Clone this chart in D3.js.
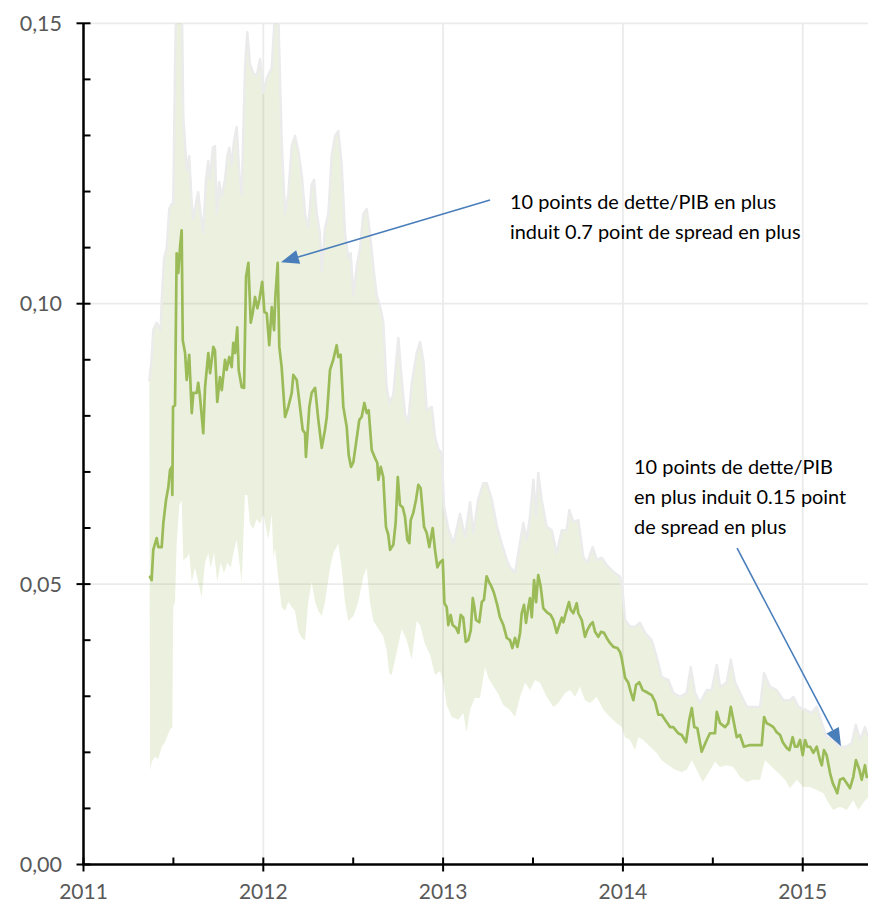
<!DOCTYPE html>
<html><head><meta charset="utf-8">
<script src="https://cdn.jsdelivr.net/npm/d3@7"></script>
<style>body{margin:0;background:#fff}svg{display:block}</style>
</head><body><svg id="chart" width="873" height="904"></svg>
<script>
// ---------- DATA ----------
const yearTicks = [2011, 2012, 2013, 2014, 2015];
const halfYearTicks = [2011.5, 2012.5, 2013.5, 2014.5];
const valueTicks = [0, 0.05, 0.10, 0.15];
const minorValueTicks = [0.01,0.02,0.03,0.04,0.06,0.07,0.08,0.09,0.11,0.12,0.13,0.14];

const spreadDates = [
2011.370,2011.379,2011.388,2011.407,2011.416,2011.435,2011.444,2011.459,2011.472,2011.481,
2011.491,2011.494,2011.498,2011.509,2011.518,2011.527,2011.537,2011.546,2011.552,2011.565,
2011.574,2011.588,2011.602,2011.611,2011.630,2011.638,2011.648,2011.666,2011.676,2011.694,
2011.704,2011.722,2011.731,2011.744,2011.759,2011.769,2011.787,2011.796,2011.811,2011.824,
2011.833,2011.843,2011.855,2011.863,2011.880,2011.893,2011.904,2011.917,2011.930,2011.941,
2011.954,2011.967,2011.978,2011.994,
2012.006,2012.019,2012.033,2012.047,2012.060,2012.067,2012.080,2012.089,2012.102,2012.121,
2012.139,2012.158,2012.167,2012.186,2012.204,2012.219,2012.232,2012.237,2012.256,2012.269,
2012.288,2012.306,2012.325,2012.343,2012.353,2012.371,2012.389,2012.408,2012.417,2012.430,
2012.445,2012.464,2012.475,2012.488,2012.501,2012.516,2012.534,2012.547,2012.562,2012.575,
2012.586,2012.603,2012.621,2012.634,2012.640,2012.653,2012.667,2012.682,2012.695,2012.705,
2012.723,2012.736,2012.748,2012.760,2012.775,2012.788,2012.801,2012.812,2012.820,2012.834,
2012.849,2012.862,2012.875,2012.894,2012.909,2012.923,2012.942,2012.955,2012.968,2012.983,
2012.998,
2013.007,2013.020,2013.029,2013.042,2013.053,2013.072,2013.085,2013.098,2013.112,2013.126,
2013.140,2013.154,2013.165,2013.174,2013.183,2013.201,2013.215,2013.227,2013.242,2013.255,
2013.270,2013.283,2013.301,2013.316,2013.335,2013.354,2013.372,2013.385,2013.400,2013.413,
2013.428,2013.437,2013.450,2013.461,2013.474,2013.483,2013.493,2013.506,2013.517,2013.529,
2013.543,2013.557,2013.576,2013.598,2013.613,2013.632,2013.646,2013.660,2013.669,2013.682,
2013.700,2013.710,2013.724,2013.743,2013.752,2013.771,2013.789,2013.802,2013.817,2013.832,
2013.845,2013.863,2013.878,2013.895,2013.910,2013.928,2013.947,2013.969,2013.984,2013.993,
2014.012,2014.030,2014.045,2014.058,2014.073,2014.091,2014.110,2014.128,2014.160,2014.179,
2014.197,2014.216,2014.234,2014.262,2014.280,2014.308,2014.327,2014.351,2014.369,2014.383,
2014.397,2014.414,2014.438,2014.466,2014.484,2014.512,2014.522,2014.540,2014.568,2014.586,
2014.600,2014.614,2014.633,2014.651,2014.673,2014.707,2014.744,2014.772,2014.785,2014.800,
2014.818,2014.837,2014.855,2014.874,2014.889,2014.911,2014.926,2014.944,2014.957,2014.970,
2014.985,
2015.000,2015.013,2015.026,2015.041,2015.059,2015.078,2015.096,2015.106,2015.118,2015.133,
2015.152,2015.167,2015.180,2015.192,2015.207,2015.226,2015.245,2015.263,2015.281,2015.296,
2015.315,2015.328,2015.346,2015.356,2015.363];

const spreadValues = [
.0513,.0507,.0561,.0582,.0566,.0566,.0609,.0650,.0673,.0703,
.0709,.0659,.0816,.0819,.1090,.1055,.1101,.1131,.0935,.0912,
.0864,.0909,.0805,.0841,.0841,.0859,.0834,.0769,.0851,.0912,
.0876,.0923,.0917,.0825,.0869,.0846,.0900,.0882,.0905,.0887,
.0930,.0912,.0958,.0882,.0851,.0850,.1048,.1073,.0966,.0983,
.1012,.0992,.1007,.1039,
.0985,.0983,.0926,.0994,.0953,.1012,.1073,.0923,.0887,.0798,
.0816,.0841,.0873,.0864,.0816,.0775,.0769,.0727,.0816,.0841,
.0850,.0793,.0743,.0775,.0798,.0882,.0900,.0926,.0905,.0909,
.0816,.0780,.0730,.0709,.0718,.0752,.0793,.0798,.0823,.0805,
.0810,.0739,.0725,.0716,.0686,.0709,.0691,.0602,.0588,.0561,
.0570,.0609,.0691,.0641,.0637,.0620,.0579,.0573,.0614,.0627,
.0650,.0677,.0671,.0602,.0591,.0566,.0600,.0561,.0530,.0539,
.0543,
.0466,.0459,.0427,.0445,.0427,.0422,.0413,.0445,.0440,.0397,
.0400,.0418,.0475,.0459,.0436,.0432,.0468,.0472,.0514,.0504,
.0495,.0484,.0463,.0441,.0427,.0404,.0400,.0386,.0404,.0388,
.0413,.0448,.0463,.0431,.0459,.0475,.0441,.0507,.0468,.0516,
.0495,.0457,.0450,.0445,.0436,.0413,.0427,.0440,.0432,.0448,
.0468,.0454,.0448,.0466,.0448,.0436,.0406,.0418,.0427,.0432,
.0415,.0406,.0415,.0413,.0404,.0395,.0388,.0386,.0379,.0368,
.0333,.0324,.0306,.0293,.0320,.0325,.0311,.0308,.0302,.0290,
.0267,.0267,.0258,.0245,.0245,.0234,.0231,.0218,.0258,.0279,
.0245,.0243,.0201,.0222,.0234,.0234,.0272,.0252,.0245,.0252,
.0281,.0258,.0227,.0231,.0210,.0213,.0213,.0213,.0263,.0252,
.0249,.0245,.0236,.0231,.0218,.0208,.0204,.0227,.0210,.0210,
.0222,
.0195,.0222,.0210,.0210,.0199,.0210,.0186,.0177,.0204,.0195,
.0163,.0145,.0136,.0127,.0151,.0154,.0145,.0136,.0156,.0186,
.0169,.0151,.0177,.0156,.0156];

const upperDates = [
2011.366,2011.379,2011.388,2011.407,2011.429,2011.435,2011.448,2011.463,2011.477,2011.491,
2011.499,2011.509,2011.518,2011.546,2011.555,2011.574,2011.588,2011.602,2011.611,2011.630,
2011.638,2011.648,2011.666,2011.681,2011.694,2011.704,2011.719,2011.731,2011.741,2011.755,
2011.769,2011.787,2011.800,2011.811,2011.824,2011.837,2011.852,2011.867,2011.880,2011.898,
2011.911,2011.926,2011.944,2011.963,2011.982,
2012.000,2012.019,2012.047,2012.065,2012.083,2012.102,2012.121,2012.139,2012.158,2012.176,
2012.195,2012.214,2012.232,2012.250,2012.269,2012.282,2012.297,2012.315,2012.325,2012.343,
2012.362,2012.380,2012.399,2012.417,2012.436,2012.454,2012.473,2012.486,2012.501,2012.519,
2012.538,2012.556,2012.575,2012.593,2012.612,2012.631,2012.649,2012.667,2012.686,2012.701,
2012.723,2012.751,2012.770,2012.788,2012.806,2012.825,2012.853,2012.872,2012.890,2012.909,
2012.937,2012.955,2012.973,2012.992,
2013.005,2013.029,2013.057,2013.094,2013.122,2013.150,2013.168,2013.196,2013.224,2013.242,
2013.270,2013.298,2013.326,2013.354,2013.372,2013.400,2013.418,2013.446,2013.465,2013.483,
2013.502,2013.517,2013.529,2013.548,2013.576,2013.604,2013.632,2013.660,2013.687,2013.702,
2013.724,2013.752,2013.780,2013.802,2013.832,2013.854,2013.882,2013.910,2013.947,2013.984,
2013.998,
2014.012,2014.040,2014.067,2014.095,2014.123,2014.160,2014.188,2014.216,2014.253,2014.280,
2014.318,2014.355,2014.377,2014.401,2014.429,2014.466,2014.494,2014.522,2014.540,2014.577,
2014.600,2014.624,2014.651,2014.689,2014.725,2014.763,2014.785,2014.818,2014.855,2014.892,
2014.929,2014.948,2014.976,
2015.013,2015.050,2015.078,2015.106,2015.133,2015.170,2015.207,2015.245,2015.273,2015.296,
2015.319,2015.346,2015.363];

const upperValues = [
.0862,.0901,.0953,.0966,.0953,.1005,.1081,.1099,.1169,.1178,
.1178,.1420,.158,.156,.1333,.1238,.1263,.1178,.1151,.1187,
.1199,.1169,.1126,.1221,.1254,.1221,.1278,.1281,.1160,.1217,
.1190,.1221,.1263,.1278,.1247,.1290,.1315,.1229,.1194,.1420,
.1484,.1427,.1411,.1406,.1436,
.1376,.1402,.1420,.152,.152,.1290,.1160,.1194,.1281,.1299,
.1272,.1229,.1160,.1135,.1212,.1221,.1160,.1126,.1057,.1135,
.1160,.1263,.1299,.1308,.1247,.1126,.1081,.1090,.1014,.1065,
.1099,.1160,.1169,.1126,.1065,.1014,.0996,.0967,.0850,.0823,
.0837,.0939,.0864,.0803,.0789,.0857,.0912,.0932,.0898,.0810,
.0816,.0762,.0741,.0734,
.0639,.0598,.0572,.0625,.0584,.0646,.0591,.0652,.0680,.0680,
.0652,.0605,.0572,.0543,.0530,.0520,.0555,.0609,.0579,.0620,
.0686,.0620,.0698,.0650,.0602,.0596,.0555,.0596,.0596,.0632,
.0611,.0614,.0548,.0538,.0566,.0543,.0547,.0534,.0522,.0513,
.0489,
.0436,.0424,.0424,.0431,.0413,.0400,.0370,.0334,.0329,.0306,
.0299,.0306,.0352,.0306,.0288,.0311,.0311,.0356,.0317,.0324,
.0365,.0324,.0306,.0281,.0281,.0281,.0341,.0317,.0311,.0293,
.0293,.0299,.0281,
.0276,.0270,.0281,.0252,.0227,.0222,.0210,.0210,.0217,.0249,
.0222,.0245,.0227];

const lowerDates = [
2011.370,2011.379,2011.398,2011.416,2011.435,2011.453,2011.472,2011.485,2011.494,2011.499,
2011.509,2011.518,2011.533,2011.546,2011.555,2011.574,2011.588,2011.602,2011.620,2011.638,
2011.657,2011.676,2011.694,2011.707,2011.726,2011.744,2011.763,2011.781,2011.800,2011.819,
2011.833,2011.852,2011.867,2011.880,2011.898,2011.911,2011.926,2011.944,2011.963,2011.982,
2012.000,2012.028,2012.047,2012.056,2012.065,2012.083,2012.102,2012.121,2012.139,2012.158,
2012.176,2012.195,2012.214,2012.232,2012.250,2012.269,2012.288,2012.306,2012.325,2012.343,
2012.371,2012.389,2012.417,2012.436,2012.454,2012.473,2012.501,2012.528,2012.556,2012.575,
2012.593,2012.612,2012.631,2012.649,2012.667,2012.686,2012.701,2012.714,2012.742,2012.770,
2012.798,2012.825,2012.853,2012.872,2012.899,2012.927,2012.955,2012.983,
2013.001,2013.020,2013.048,2013.085,2013.112,2013.131,2013.150,2013.177,2013.205,2013.233,
2013.251,2013.279,2013.307,2013.335,2013.368,2013.400,2013.428,2013.456,2013.483,2013.511,
2013.539,2013.576,2013.613,2013.641,2013.678,2013.706,2013.734,2013.761,2013.789,2013.817,
2013.854,2013.891,2013.928,2013.966,2013.993,
2014.012,2014.040,2014.067,2014.086,2014.113,2014.151,2014.188,2014.216,2014.253,2014.290,
2014.327,2014.355,2014.383,2014.410,2014.444,2014.475,2014.512,2014.540,2014.577,2014.614,
2014.651,2014.689,2014.725,2014.763,2014.790,2014.828,2014.864,2014.902,2014.929,2014.967,
2015.003,2015.041,2015.078,2015.115,2015.142,2015.170,2015.207,2015.245,2015.281,2015.309,
2015.337,2015.365];

const lowerValues = [
.0167,.0183,.0192,.0188,.0210,.0218,.0234,.0243,.0243,.0459,
.0468,.0572,.0641,.0650,.0543,.0547,.0555,.0504,.0529,.0504,
.0477,.0538,.0555,.0529,.0555,.0504,.0538,.0520,.0538,.0529,
.0555,.0579,.0538,.0504,.0659,.0659,.0607,.0598,.0616,.0607,
.0625,.0580,.0625,.0548,.0564,.0513,.0459,.0452,.0468,.0459,
.0452,.0416,.0404,.0400,.0468,.0504,.0468,.0452,.0443,.0468,
.0529,.0555,.0572,.0529,.0468,.0434,.0443,.0468,.0513,.0529,
.0468,.0434,.0425,.0416,.0407,.0382,.0340,.0338,.0379,.0420,
.0400,.0366,.0434,.0427,.0393,.0374,.0338,.0345,
.0325,.0284,.0263,.0258,.0270,.0236,.0277,.0297,.0297,.0352,
.0333,.0318,.0304,.0284,.0277,.0263,.0299,.0324,.0311,.0329,
.0324,.0299,.0281,.0288,.0306,.0311,.0299,.0317,.0293,.0288,
.0299,.0276,.0263,.0252,.0245,
.0227,.0222,.0204,.0227,.0222,.0210,.0199,.0186,.0177,.0169,
.0165,.0169,.0186,.0169,.0147,.0163,.0183,.0174,.0177,.0174,
.0156,.0147,.0151,.0151,.0186,.0174,.0163,.0151,.0136,.0151,
.0138,.0138,.0133,.0127,.0110,.0097,.0103,.0097,.0115,.0097,
.0110,.0120];

const annotationLines1 = ["10 points de dette/PIB en plus", "induit 0.7 point de spread en plus"];
const annotationLines2 = ["10 points de dette/PIB", "en plus induit 0.15 point", "de spread en plus"];
const annotationText1 = [2013.372, 0.1169];
const annotationText2 = [2014.062, 0.0696];
const arrow1 = {from: [2013.261, 0.1185], to: [2012.098, 0.1074]};
const arrow2 = {from: [2014.635, 0.0564], to: [2015.213, 0.0211]};

// ---------- LAYOUT ----------
const plotLeft = 83.5, plotRight = 868, plotTop = 23.3, plotBottom = 864.5;
const x = d3.scaleLinear().domain([2011, 2015.363]).range([plotLeft, plotRight]);
const y = d3.scaleLinear().domain([0, 0.15]).range([plotBottom, plotTop]);
const fr = d3.formatLocale({decimal: ",", thousands: " ", grouping: [3], currency: ["", " €"]});
const fmt = fr.format(".2f");

const svg = d3.select("#chart");
const FONT = "Lato, 'Open Sans', sans-serif";

svg.append("defs").append("clipPath").attr("id", "plotclip")
  .append("rect").attr("x", plotLeft).attr("y", plotTop)
  .attr("width", plotRight - plotLeft).attr("height", plotBottom - plotTop);

// gridlines
const grid = svg.append("g").attr("stroke", "#ebebeb").attr("stroke-width", 1.8);
grid.selectAll("line.h").data(valueTicks.filter(v => v > 0)).join("line").attr("class", "h")
  .attr("x1", plotLeft).attr("x2", plotRight).attr("y1", d => y(d)).attr("y2", d => y(d));
grid.selectAll("line.v").data(yearTicks.filter(v => v > 2011)).join("line")
  .attr("class", "v").attr("y1", plotTop).attr("y2", plotBottom).attr("x1", d => x(d)).attr("x2", d => x(d));

// band
const upperPts = upperDates.map((d, i) => [d, upperValues[i]]);
const lowerPts = lowerDates.map((d, i) => [d, lowerValues[i]]);
const bandPts = upperPts.concat(lowerPts.slice().reverse());
const lineGen = d3.line().x(d => x(d[0])).y(d => y(d[1]));
const plot = svg.append("g").attr("clip-path", "url(#plotclip)");
plot.append("path").attr("d", lineGen(bandPts) + "Z")
  .attr("fill", "#9bbb59").attr("fill-opacity", 0.2).attr("stroke", "none");
plot.append("path").attr("d", lineGen(upperPts))
  .attr("fill", "none").attr("stroke", "#ebebeb").attr("stroke-width", 2.5).attr("stroke-linejoin", "round");

// main line
const spreadPts = spreadDates.map((d, i) => [d, spreadValues[i]]);
plot.append("path").attr("d", lineGen(spreadPts))
  .attr("fill", "none").attr("stroke", "#9bbb59").attr("stroke-width", 2.7)
  .attr("stroke-linejoin", "round").attr("stroke-linecap", "round");

// axes
const ax = svg.append("g").attr("stroke", "#000");
ax.append("line").attr("x1", plotLeft).attr("x2", plotLeft).attr("y1", plotTop).attr("y2", plotBottom + 1)
  .attr("stroke-width", 2.5);
ax.append("line").attr("x1", plotLeft - 1).attr("x2", plotRight).attr("y1", plotBottom).attr("y2", plotBottom)
  .attr("stroke-width", 2.5);
ax.selectAll("line.ymaj").data(valueTicks).join("line").attr("class", "ymaj")
  .attr("x1", plotLeft - 7).attr("x2", plotLeft + 7).attr("y1", d => y(d)).attr("y2", d => y(d)).attr("stroke-width", 2);
ax.selectAll("line.ymin").data(minorValueTicks).join("line").attr("class", "ymin")
  .attr("x1", plotLeft).attr("x2", plotLeft + 7).attr("y1", d => y(d)).attr("y2", d => y(d)).attr("stroke-width", 2);
ax.selectAll("line.xmaj").data(yearTicks).join("line").attr("class", "xmaj")
  .attr("x1", d => x(d)).attr("x2", d => x(d)).attr("y1", plotBottom - 7).attr("y2", plotBottom + 7).attr("stroke-width", 2);
ax.selectAll("line.xmin").data(halfYearTicks).join("line").attr("class", "xmin")
  .attr("x1", d => x(d)).attr("x2", d => x(d)).attr("y1", plotBottom - 7).attr("y2", plotBottom).attr("stroke-width", 2);

// tick labels
svg.append("g").selectAll("text").data(valueTicks).join("text")
  .attr("x", 62).attr("y", d => y(d)).attr("dy", "0.36em").attr("text-anchor", "end")
  .attr("font-family", FONT).attr("font-size", 21.5).attr("fill", "#595959").text(d => fmt(d));
svg.append("g").selectAll("text").data(yearTicks).join("text")
  .attr("x", d => x(d)).attr("y", 899).attr("text-anchor", "middle")
  .attr("font-family", FONT).attr("font-size", 21).attr("fill", "#595959").text(d => d);

// annotations
const blue = "#4a7ebb";
function arrow(a) {
  const x1 = x(a.from[0]), y1 = y(a.from[1]), x2 = x(a.to[0]), y2 = y(a.to[1]);
  const ang = Math.atan2(y2 - y1, x2 - x1);
  const L = 18, Wd = 7;
  const bx = x2 - L * Math.cos(ang), by = y2 - L * Math.sin(ang);
  svg.append("line").attr("x1", x1).attr("y1", y1).attr("x2", bx).attr("y2", by)
    .attr("stroke", blue).attr("stroke-width", 1.6);
  const px = -Math.sin(ang) * Wd, py = Math.cos(ang) * Wd;
  svg.append("path").attr("d", `M${x2},${y2}L${bx + px},${by + py}L${bx - px},${by - py}Z`).attr("fill", blue);
}
arrow(arrow1);
arrow(arrow2);

function textBlock(lines, pos) {
  const t = svg.append("text").attr("font-family", FONT).attr("font-size", 19.9).attr("fill", "#000");
  lines.forEach((s, i) => t.append("tspan").attr("x", x(pos[0])).attr("y", y(pos[1]) + i * 29.7).text(s));
}
textBlock(annotationLines1, annotationText1);
textBlock(annotationLines2, annotationText2);
</script></body></html>
